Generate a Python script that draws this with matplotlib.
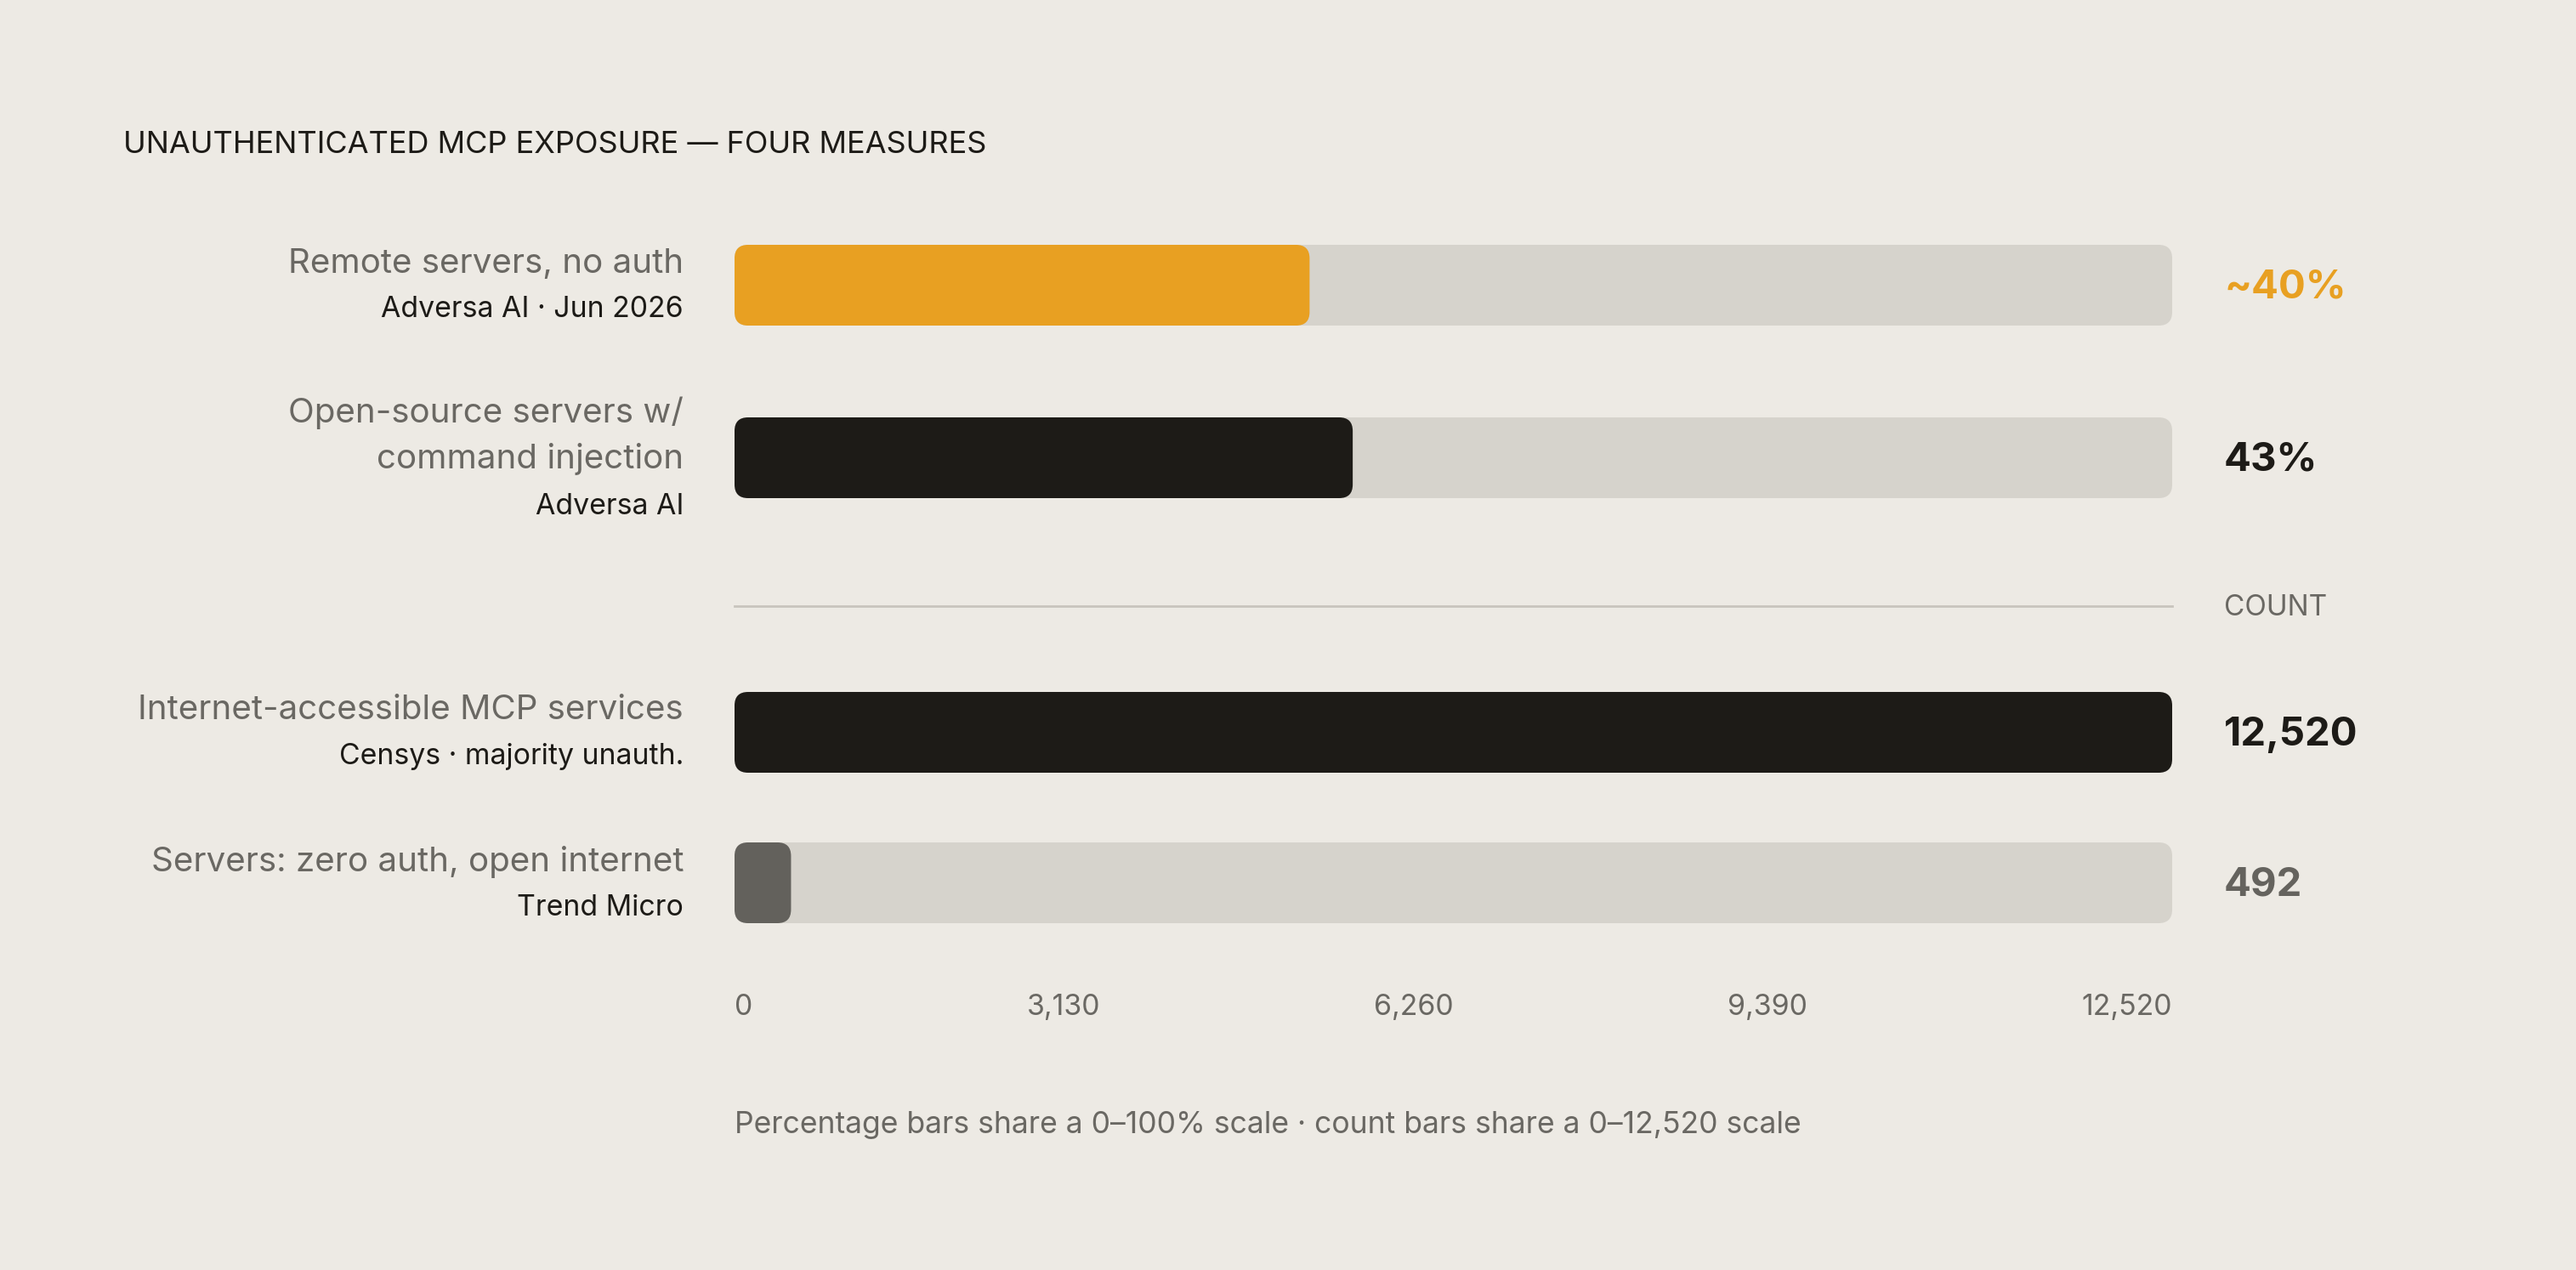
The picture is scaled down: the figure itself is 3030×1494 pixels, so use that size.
import matplotlib
matplotlib.use("Agg")
import matplotlib.pyplot as plt
from matplotlib.patches import FancyBboxPatch
from matplotlib.lines import Line2D

# ---------------- data ----------------
title = "UNAUTHENTICATED MCP EXPOSURE — FOUR MEASURES"
row_labels = [
    ["Remote servers, no auth"],
    ["Open-source servers w/", "command injection"],
    ["Internet-accessible MCP services"],
    ["Servers: zero auth, open internet"],
]
row_sources = ["Adversa AI · Jun 2026", "Adversa AI", "Censys · majority unauth.", "Trend Micro"]
values = [40, 43, 12520, 492]
value_labels = ["~40%", "43%", "12,520", "492"]
scale_max = [100, 100, 12520, 12520]
count_ticks = [0, 3130, 6260, 9390, 12520]
count_tick_labels = ["0", "3,130", "6,260", "9,390", "12,520"]
section_label = "COUNT"
footnote = "Percentage bars share a 0–100% scale · count bars share a 0–12,520 scale"

# ---------------- style ----------------
BG = "#EDEAE4"
TRACK = "#D6D3CC"
ORANGE = "#E8A022"
DARK = "#1D1B17"
GREYBAR = "#63615C"
GREYTXT = "#6A6863"
RULE = "#C8C4BD"
fill_colors = [ORANGE, DARK, DARK, GREYBAR]
value_colors = [ORANGE, DARK, DARK, "#65635E"]

FONT = ["Inter", "DejaVu Sans"]
plt.rcParams["font.family"] = FONT

W, H, DPI = 3030, 1494, 200
fig = plt.figure(figsize=(W / DPI, H / DPI), dpi=DPI, facecolor=BG)

def fx(x):
    return x / W

def fy(y):
    return 1 - y / H

BAR_X0, BAR_W, BAR_H = 864, 1691, 95
bar_tops = [288, 491, 814, 991]
RADIUS = 16
LABEL_X = 804
VALUE_X = 2616

# title
fig.text(fx(145), fy(170), title, fontsize=13.0, color=DARK, ha="left", va="center")

axes = []
for i in range(4):
    top = bar_tops[i]
    ax = fig.add_axes([fx(BAR_X0), fy(top + BAR_H), BAR_W / W, BAR_H / H])
    ax.set_facecolor("none")
    mx = scale_max[i]
    ax.set_xlim(0, mx)
    ax.set_ylim(0, 1)
    ax.axis("off")
    rs = RADIUS * mx / BAR_W
    aspect = BAR_W / (BAR_H * mx)
    track = FancyBboxPatch((0, 0), mx, 1, boxstyle=f"round,pad=0,rounding_size={rs}",
                           mutation_aspect=aspect, fc=TRACK, ec="none", clip_on=False)
    ax.add_patch(track)
    fill = FancyBboxPatch((0, 0), values[i], 1, boxstyle=f"round,pad=0,rounding_size={rs}",
                          mutation_aspect=aspect, fc=fill_colors[i], ec="none", clip_on=False)
    ax.add_patch(fill)
    axes.append(ax)

    # value label
    cy = top + BAR_H / 2 + 3
    fig.text(fx(VALUE_X), fy(cy), value_labels[i], fontsize=17.0, fontweight="bold",
             color=value_colors[i], ha="left", va="center")

# row labels
label_lines_y = [
    [310],
    [486, 540],
    [836],
    [1014],
]
source_y = [364, 596, 890, 1068]
for i in range(4):
    for line, y in zip(row_labels[i], label_lines_y[i]):
        fig.text(fx(LABEL_X), fy(y), line, fontsize=14.5, color=GREYTXT, ha="right", va="center")
    fig.text(fx(LABEL_X), fy(source_y[i]), row_sources[i], fontsize=12.2, color=DARK,
             ha="right", va="center")

# separator and section label
fig.add_artist(Line2D([fx(BAR_X0), fx(BAR_X0 + BAR_W)], [fy(713), fy(713)],
                      color=RULE, lw=1.0, transform=fig.transFigure))
fig.text(fx(VALUE_X), fy(715), section_label, fontsize=12.0, color=GREYTXT, ha="left", va="center")

# count axis tick labels laid out with even gaps between labels
tick_texts = []
for lab in count_tick_labels:
    t = fig.text(0, fy(1185), lab, fontsize=12.2, color=GREYTXT, ha="left", va="center")
    tick_texts.append(t)
renderer = fig.canvas.get_renderer()
widths = [t.get_window_extent(renderer).width for t in tick_texts]
cnt_ax = axes[3]
x_start = cnt_ax.transData.transform((count_ticks[0], 0))[0]
x_end = cnt_ax.transData.transform((count_ticks[-1], 0))[0]
gap = (x_end - x_start - sum(widths)) / (len(widths) - 1)
cur = x_start
for t, w in zip(tick_texts, widths):
    t.set_x(cur / fig.bbox.width)
    cur += w + gap

# footnote
fig.text(fx(BAR_X0), fy(1324), footnote, fontsize=12.8, color=GREYTXT, ha="left", va="center")

fig.savefig("out.png", dpi=DPI, facecolor=BG)
